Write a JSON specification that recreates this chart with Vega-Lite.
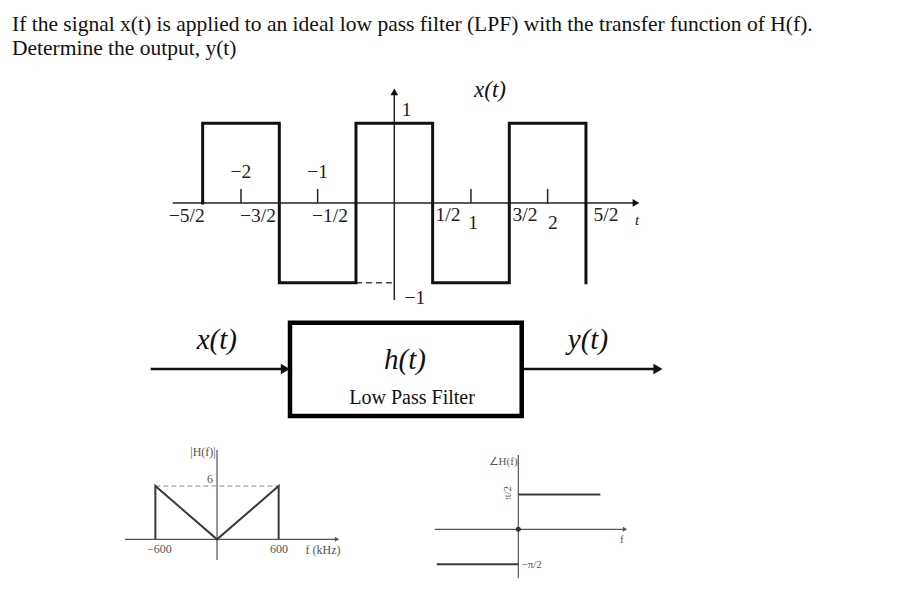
{
  "$schema": "https://vega.github.io/schema/vega-lite/v6.json",
  "width": 908,
  "height": 603,
  "padding": 0,
  "autosize": {"type": "fit", "contains": "padding"},
  "background": "white",
  "config": {"view": {"stroke": null}, "text": {"font": "Liberation Serif"}},
  "datasets": {
    "header": [
      {"x": 0, "y": 1, "text": "If the signal x(t) is applied to an ideal low pass filter (LPF) with the transfer function of H(f)."},
      {"x": 0, "y": 2, "text": "Determine the output, y(t)"}
    ],
    "wave": [
      {"i": 0, "x": -2.5, "y": 0}, {"i": 1, "x": -2.5, "y": 1}, {"i": 2, "x": -1.5, "y": 1},
      {"i": 3, "x": -1.5, "y": -1}, {"i": 4, "x": -0.5, "y": -1}, {"i": 5, "x": -0.5, "y": 1},
      {"i": 6, "x": 0.5, "y": 1}, {"i": 7, "x": 0.5, "y": -1}, {"i": 8, "x": 1.5, "y": -1},
      {"i": 9, "x": 1.5, "y": 1}, {"i": 10, "x": 2.5, "y": 1}, {"i": 11, "x": 2.5, "y": -1}
    ],
    "waveSegs": [
      {"x": -2.891, "y": 0, "x2": 3.15, "y2": 0},
      {"x": 0, "y": -1.217, "x2": 0, "y2": 1.39},
      {"x": -2, "y": 0, "x2": -2, "y2": 0.176},
      {"x": -1, "y": 0, "x2": -1, "y2": 0.176},
      {"x": 1, "y": 0, "x2": 1, "y2": 0.176},
      {"x": 2, "y": 0, "x2": 2, "y2": 0.176}
    ],
    "waveDash": [{"x": -0.5, "y": -1, "x2": 0, "y2": -1}],
    "waveRight": [{"x": 3.153, "y": 0}],
    "waveUp": [{"x": 0, "y": 1.393}],
    "waveLabels": [
      {"x": -2, "y": 0.393, "text": "−2"},
      {"x": -1, "y": 0.393, "text": "−1"},
      {"x": 1.027, "y": -0.251, "text": "1"},
      {"x": 2.07, "y": -0.251, "text": "2"},
      {"x": -2.708, "y": -0.163, "text": "−5/2"},
      {"x": -1.778, "y": -0.163, "text": "−3/2"},
      {"x": -0.839, "y": -0.163, "text": "−1/2"},
      {"x": 0.7, "y": -0.15, "text": "1/2"},
      {"x": 1.705, "y": -0.15, "text": "3/2"},
      {"x": 2.762, "y": -0.15, "text": "5/2"},
      {"x": 0.162, "y": 1.167, "text": "1"},
      {"x": 0.27, "y": -1.19, "text": "−1"}
    ],
    "waveItalic": [
      {"x": 3.166, "y": -0.213, "text": "t"}
    ],
    "waveTitle": [{"x": 1.248, "y": 1.418, "text": "x(t)"}],
    "box": [{"x": 0, "x2": 10, "y": 0, "y2": 4}],
    "blockSegs": [
      {"x": -6.012, "y": 2.015, "x2": -0.3, "y2": 2.015},
      {"x": 10, "y": 2.015, "x2": 15.8, "y2": 2.015}
    ],
    "blockHeads": [{"x": -0.2, "y": 2.015}, {"x": 15.88, "y": 2.015}],
    "blockBig": [
      {"x": -3.16, "y": 3.26, "text": "x(t)"},
      {"x": 12.86, "y": 3.26, "text": "y(t)"},
      {"x": 4.96, "y": 2.4, "text": "h(t)"}
    ],
    "blockSmall": [{"x": 5.27, "y": 0.77, "text": "Low Pass Filter"}],
    "mag": [
      {"i": 0, "x": -600, "y": 0}, {"i": 1, "x": -600, "y": 6}, {"i": 2, "x": 0, "y": 0},
      {"i": 3, "x": 600, "y": 6}, {"i": 4, "x": 600, "y": 0}
    ],
    "magAxes": [
      {"x": -895, "y": 0, "x2": 1160, "y2": 0},
      {"x": 0, "y": -2.33, "x2": 0, "y2": 10.05}
    ],
    "magDash": [{"x": -600, "y": 6, "x2": 600, "y2": 6}],
    "magHead": [{"x": 1168, "y": 0}],
    "magLabels": [
      {"x": -560, "y": -1.1, "text": "−600"},
      {"x": 603, "y": -1.1, "text": "600"},
      {"x": 1032, "y": -1.2, "text": "f (kHz)"},
      {"x": -136, "y": 9.85, "text": "|H(f)|"},
      {"x": -68, "y": 6.8, "text": "6"}
    ],
    "phase": [
      {"x": 0, "y": 1, "x2": 1, "y2": 1},
      {"x": -0.995, "y": -1, "x2": 0, "y2": -1}
    ],
    "phaseAxes": [
      {"x": -1.018, "y": 0, "x2": 1.3, "y2": 0},
      {"x": 0, "y": -1.397, "x2": 0, "y2": 2.132}
    ],
    "phaseHead": [{"x": 1.301, "y": 0}],
    "phaseDot": [{"x": 0, "y": 0}],
    "phaseLabels": [
      {"x": -0.186, "y": 1.94, "text": "∠H(f)"},
      {"x": 0.163, "y": -1.02, "text": "−π/2"},
      {"x": 1.261, "y": -0.31, "text": "f"}
    ],
    "phaseRot": [{"x": -0.126, "y": 1.04, "text": "π/2"}]
  },
  "layer": [
    {
      "encoding": {
        "x": {"field": "x", "type": "quantitative", "axis": null, "scale": {"domain": [-12, 896], "nice": false, "zero": false}},
        "y": {"field": "y", "type": "quantitative", "axis": null, "scale": {"domain": [25.083, -0.0417], "nice": false, "zero": false}}
      },
      "layer": [
        {"data": {"name": "header"}, "mark": {"type": "text", "align": "left", "baseline": "middle", "fontSize": 21.5, "color": "#111"}, "encoding": {"text": {"field": "text"}}}
      ]
    },
    {
      "encoding": {
        "x": {"field": "x", "type": "quantitative", "axis": null, "scale": {"domain": [-5.1435, 6.701], "nice": false, "zero": false}},
        "y": {"field": "y", "type": "quantitative", "axis": null, "scale": {"domain": [-5.019, 2.547], "nice": false, "zero": false}}
      },
      "layer": [
        {"data": {"name": "waveSegs"}, "mark": {"type": "rule", "color": "#222", "strokeWidth": 1.5}, "encoding": {"x2": {"field": "x2"}, "y2": {"field": "y2"}}},
        {"data": {"name": "waveDash"}, "mark": {"type": "rule", "color": "#444", "strokeWidth": 1.5, "strokeDash": [6, 4]}, "encoding": {"x2": {"field": "x2"}, "y2": {"field": "y2"}}},
        {"data": {"name": "wave"}, "mark": {"type": "line", "color": "#111", "strokeWidth": 3, "strokeJoin": "miter", "strokeCap": "square"}, "encoding": {"order": {"field": "i", "type": "quantitative"}}},
        {"data": {"name": "waveRight"}, "mark": {"type": "point", "shape": "triangle-right", "filled": true, "color": "#111", "size": 60, "opacity": 1}},
        {"data": {"name": "waveUp"}, "mark": {"type": "point", "shape": "triangle-up", "filled": true, "color": "#111", "size": 60, "opacity": 1}},
        {"data": {"name": "waveLabels"}, "mark": {"type": "text", "fontSize": 19.5, "color": "#222", "baseline": "middle"}, "encoding": {"text": {"field": "text"}}},
        {"data": {"name": "waveItalic"}, "mark": {"type": "text", "fontSize": 15, "fontStyle": "italic", "color": "#222", "baseline": "middle"}, "encoding": {"text": {"field": "text"}}},
        {"data": {"name": "waveTitle"}, "mark": {"type": "text", "fontSize": 23, "fontStyle": "italic", "color": "#111", "baseline": "middle"}, "encoding": {"text": {"field": "text"}}}
      ]
    },
    {
      "encoding": {
        "x": {"field": "x", "type": "quantitative", "axis": null, "scale": {"domain": [-12.516, 26.672], "nice": false, "zero": false}},
        "y": {"field": "y", "type": "quantitative", "axis": null, "scale": {"domain": [-8.017, 17.835], "nice": false, "zero": false}}
      },
      "layer": [
        {"data": {"name": "blockSegs"}, "mark": {"type": "rule", "color": "#111", "strokeWidth": 2.5}, "encoding": {"x2": {"field": "x2"}, "y2": {"field": "y2"}}},
        {"data": {"name": "box"}, "mark": {"type": "rect", "fill": "white", "stroke": "#000", "strokeWidth": 4.5}, "encoding": {"x2": {"field": "x2"}, "y2": {"field": "y2"}}},
        {"data": {"name": "blockHeads"}, "mark": {"type": "point", "shape": "triangle-right", "filled": true, "color": "#111", "size": 110, "opacity": 1}},
        {"data": {"name": "blockBig"}, "mark": {"type": "text", "fontSize": 29, "fontStyle": "italic", "color": "#111", "baseline": "middle"}, "encoding": {"text": {"field": "text"}}},
        {"data": {"name": "blockSmall"}, "mark": {"type": "text", "fontSize": 20, "color": "#111", "baseline": "middle"}, "encoding": {"text": {"field": "text"}}}
      ]
    },
    {
      "encoding": {
        "x": {"field": "x", "type": "quantitative", "axis": null, "scale": {"domain": [-2112, 6725], "nice": false, "zero": false}},
        "y": {"field": "y", "type": "quantitative", "axis": null, "scale": {"domain": [-7.17, 60.71], "nice": false, "zero": false}}
      },
      "layer": [
        {"data": {"name": "magAxes"}, "mark": {"type": "rule", "color": "#555", "strokeWidth": 1.2}, "encoding": {"x2": {"field": "x2"}, "y2": {"field": "y2"}}},
        {"data": {"name": "magDash"}, "mark": {"type": "rule", "color": "#888", "strokeWidth": 1.2, "strokeDash": [5, 3]}, "encoding": {"x2": {"field": "x2"}, "y2": {"field": "y2"}}},
        {"data": {"name": "mag"}, "mark": {"type": "line", "color": "#3a3a3a", "strokeWidth": 2, "strokeJoin": "miter"}, "encoding": {"order": {"field": "i", "type": "quantitative"}}},
        {"data": {"name": "magHead"}, "mark": {"type": "point", "shape": "triangle-right", "filled": true, "color": "#555", "size": 25, "opacity": 1}},
        {"data": {"name": "magLabels"}, "mark": {"type": "text", "fontSize": 12, "color": "#555", "baseline": "middle"}, "encoding": {"text": {"field": "text"}}}
      ]
    },
    {
      "encoding": {
        "x": {"field": "x", "type": "quantitative", "axis": null, "scale": {"domain": [-6.321, 4.752], "nice": false, "zero": false}},
        "y": {"field": "y", "type": "quantitative", "axis": null, "scale": {"domain": [-2.115, 15.188], "nice": false, "zero": false}}
      },
      "layer": [
        {"data": {"name": "phaseAxes"}, "mark": {"type": "rule", "color": "#555", "strokeWidth": 1.2}, "encoding": {"x2": {"field": "x2"}, "y2": {"field": "y2"}}},
        {"data": {"name": "phase"}, "mark": {"type": "rule", "color": "#3a3a3a", "strokeWidth": 2}, "encoding": {"x2": {"field": "x2"}, "y2": {"field": "y2"}}},
        {"data": {"name": "phaseHead"}, "mark": {"type": "point", "shape": "triangle-right", "filled": true, "color": "#555", "size": 25, "opacity": 1}},
        {"data": {"name": "phaseDot"}, "mark": {"type": "point", "shape": "circle", "filled": true, "color": "#333", "size": 25, "opacity": 1}},
        {"data": {"name": "phaseLabels"}, "mark": {"type": "text", "fontSize": 11, "color": "#555", "baseline": "middle"}, "encoding": {"text": {"field": "text"}}},
        {"data": {"name": "phaseRot"}, "mark": {"type": "text", "fontSize": 11, "color": "#555", "baseline": "middle", "angle": 270}, "encoding": {"text": {"field": "text"}}}
      ]
    }
  ],
  "resolve": {"scale": {"x": "independent", "y": "independent"}}
}
